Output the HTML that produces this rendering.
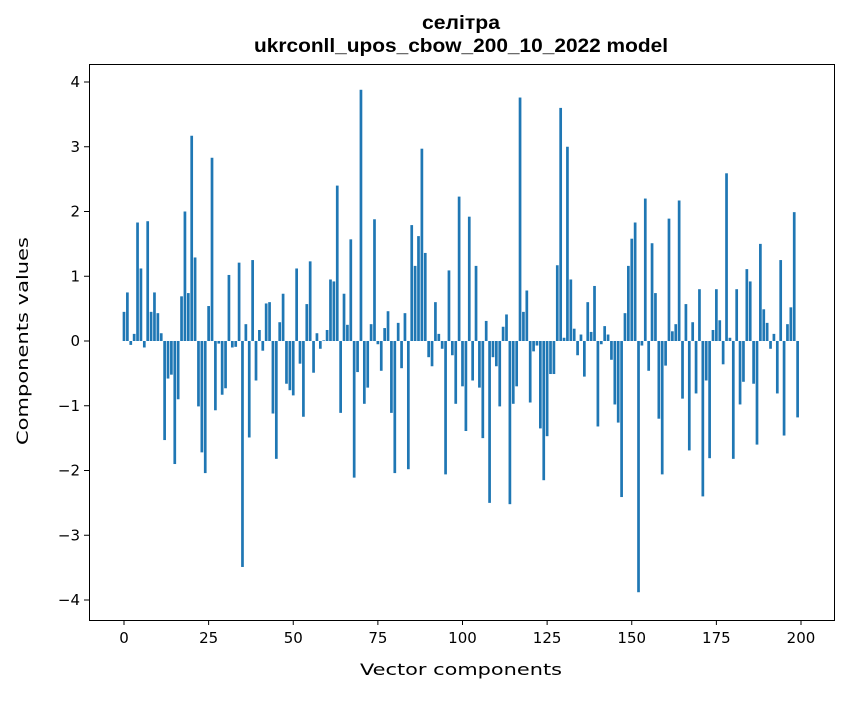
<!DOCTYPE html>
<html><head><meta charset="utf-8"><style>
body{margin:0;background:#fff;}
svg text{font-family:"DejaVu Sans","Liberation Sans",sans-serif;fill:#000;}
svg text.t{font-family:"Liberation Sans","DejaVu Sans",sans-serif;}
</style></head><body>
<svg id="chart" width="847" height="696" xmlns="http://www.w3.org/2000/svg">
<rect width="847" height="696" fill="#fff"/>
<text class="t" x="461" y="29" text-anchor="middle" font-size="19" font-weight="bold" textLength="78" lengthAdjust="spacingAndGlyphs">селітра</text>
<text class="t" x="461" y="52" text-anchor="middle" font-size="19" font-weight="bold" textLength="414" lengthAdjust="spacingAndGlyphs">ukrconll_upos_cbow_200_10_2022 model</text>
<g id="bars"></g>
<g id="xt"></g>
<g id="yt"></g>
<rect x="89.5" y="64.5" width="745" height="556" fill="none" stroke="#000" stroke-width="1"/>
<text x="461" y="675" text-anchor="middle" font-size="16" textLength="202" lengthAdjust="spacingAndGlyphs">Vector components</text>
<text x="28" y="341" text-anchor="middle" font-size="16" textLength="208" lengthAdjust="spacingAndGlyphs" transform="rotate(-90 28 341)">Components values</text>
</svg>
<script>
const values = [0.45,0.75,-0.06,0.11,1.83,1.12,-0.1,1.85,0.45,0.75,
0.43,0.12,-1.53,-0.58,-0.52,-1.9,-0.9,0.69,2.0,0.74,
3.17,1.29,-1.01,-1.72,-2.04,0.54,2.83,-1.07,-0.04,-0.83,
-0.73,1.02,-0.1,-0.09,1.21,-3.49,0.26,-1.49,1.25,-0.61,
0.17,-0.15,0.58,0.6,-1.12,-1.82,0.29,0.73,-0.66,-0.76,
-0.84,1.12,-0.35,-1.17,0.57,1.23,-0.49,0.12,-0.12,0.01,
0.17,0.95,0.92,2.4,-1.11,0.73,0.25,1.57,-2.11,-0.48,
3.88,-0.97,-0.72,0.26,1.88,-0.05,-0.46,0.2,0.46,-1.11,
-2.04,0.28,-0.42,0.43,-1.98,1.79,1.16,1.62,2.97,1.36,
-0.25,-0.39,0.6,0.11,-0.12,-2.06,1.09,-0.22,-0.97,2.23,
-0.7,-1.39,1.92,-0.61,1.16,-0.72,-1.5,0.31,-2.5,-0.25,
-0.39,-1.01,0.22,0.41,-2.52,-0.97,-0.7,3.76,0.45,0.78,
-0.95,-0.16,-0.07,-1.35,-2.15,-1.47,-0.51,-0.51,1.17,3.6,
0.05,3.0,0.95,0.19,-0.22,0.1,-0.55,0.6,0.14,0.85,
-1.32,-0.05,0.23,0.1,-0.29,-0.98,-1.26,-2.41,0.43,1.16,
1.58,1.83,-3.88,-0.07,2.2,-0.46,1.51,0.74,-1.2,-2.06,
-0.38,1.89,0.15,0.26,2.17,-0.89,0.57,-1.69,0.29,-0.81,
0.8,-2.4,-0.61,-1.81,0.17,0.8,0.32,-0.36,2.59,0.05,
-1.82,0.8,-0.98,-0.63,1.11,0.92,-0.66,-1.6,1.5,0.49,
0.28,-0.12,0.11,-0.81,1.25,-1.46,0.26,0.52,1.99,-1.18];
const xTicks = [0,25,50,75,100,125,150,175,200];
const yTicks = [-4,-3,-2,-1,0,1,2,3,4];
const NS="http://www.w3.org/2000/svg";
const xs=v=>124+v*(801-124)/200;
const ys=v=>341-v*64.75;
const bars=document.getElementById('bars');
values.forEach((v,i)=>{
  const r=document.createElementNS(NS,'rect');
  const y0=Math.min(ys(v),ys(0)), h=Math.abs(ys(v)-ys(0));
  r.setAttribute('x',xs(i-0.4));r.setAttribute('y',y0);
  r.setAttribute('width',xs(0.8)-xs(0));r.setAttribute('height',Math.max(h,0.01));
  r.setAttribute('fill','#1f77b4');
  
  
  bars.appendChild(r);
});
const xt=document.getElementById('xt');
xTicks.forEach(t=>{
  const x=xs(t);
  const l=document.createElementNS(NS,'line');
  l.setAttribute('x1',x);l.setAttribute('x2',x);l.setAttribute('y1',620);l.setAttribute('y2',625);l.setAttribute('stroke','#000');
  
  
  xt.appendChild(l);
  const tx=document.createElementNS(NS,'text');
  tx.setAttribute('x',x);tx.setAttribute('y',643);tx.setAttribute('text-anchor','middle');tx.setAttribute('font-size','15');
  tx.textContent=t;
  
  
  xt.appendChild(tx);
});
const yt=document.getElementById('yt');
yTicks.forEach(t=>{
  const y=ys(t);
  const l=document.createElementNS(NS,'line');
  l.setAttribute('x1',84);l.setAttribute('x2',89);l.setAttribute('y1',y);l.setAttribute('y2',y);l.setAttribute('stroke','#000');
  
  
  yt.appendChild(l);
  const tx=document.createElementNS(NS,'text');
  tx.setAttribute('x',80);tx.setAttribute('y',y+5);tx.setAttribute('text-anchor','end');tx.setAttribute('font-size','15');
  tx.textContent=t<0?'\u2212'+Math.abs(t):t;
  
  
  yt.appendChild(tx);
});
</script>
</body></html>
